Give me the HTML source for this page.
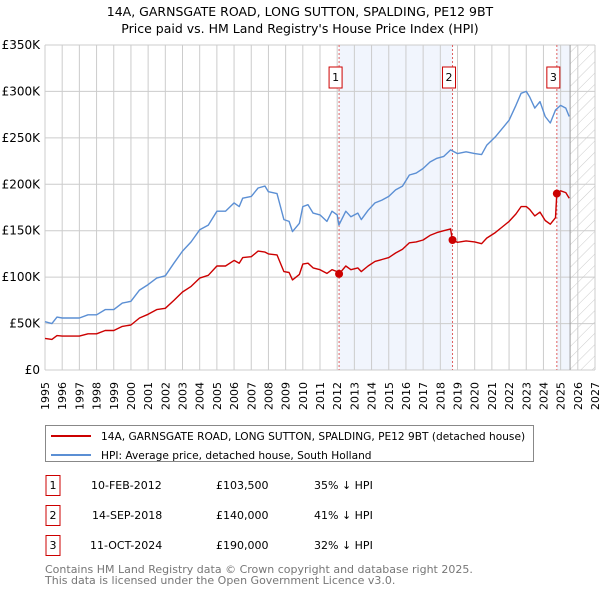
<!DOCTYPE html>
<html><head><meta charset="utf-8">
<style>
body{margin:0;background:#fff;font-family:"Liberation Sans","DejaVu Sans",sans-serif;}
svg text{font-family:"DejaVu Sans","Liberation Sans",sans-serif;}
</style></head>
<body>
<svg id="chart" width="600" height="590" viewBox="0 0 600 590" xmlns="http://www.w3.org/2000/svg">
<text x="300" y="16" text-anchor="middle" font-size="12.5">14A, GARNSGATE ROAD, LONG SUTTON, SPALDING, PE12 9BT</text>
<text x="300" y="33" text-anchor="middle" font-size="12.5">Price paid vs. HM Land Registry's House Price Index (HPI)</text>
<g id="plot"></g>
<g>
<rect x="45.5" y="425.5" width="488" height="36" fill="#fff" stroke="#888"/>
<line x1="51" y1="436" x2="91" y2="436" stroke="#cc0000" stroke-width="2"/>
<text x="101" y="440" font-size="10.6">14A, GARNSGATE ROAD, LONG SUTTON, SPALDING, PE12 9BT (detached house)</text>
<line x1="51" y1="455" x2="91" y2="455" stroke="#5b8fd4" stroke-width="2"/>
<text x="101" y="459" font-size="10.6">HPI: Average price, detached house, South Holland</text>
</g>
<g font-size="11">
<rect x="46" y="475.5" width="14" height="20" fill="#fff" stroke="#cc0000"/><text x="53" y="489" text-anchor="middle">1</text>
<text x="91" y="489">10-FEB-2012</text><text x="216" y="489">£103,500</text><text x="314" y="489">35% ↓ HPI</text>
<rect x="46" y="505.5" width="14" height="20" fill="#fff" stroke="#cc0000"/><text x="53" y="519" text-anchor="middle">2</text>
<text x="92" y="519">14-SEP-2018</text><text x="216" y="519">£140,000</text><text x="314" y="519">41% ↓ HPI</text>
<rect x="46" y="535.5" width="14" height="20" fill="#fff" stroke="#cc0000"/><text x="53" y="549" text-anchor="middle">3</text>
<text x="90" y="549">11-OCT-2024</text><text x="216" y="549">£190,000</text><text x="314" y="549">32% ↓ HPI</text>
</g>
<g font-size="11" fill="#777">
<text x="45" y="573">Contains HM Land Registry data © Crown copyright and database right 2025.</text>
<text x="45" y="584">This data is licensed under the Open Government Licence v3.0.</text>
</g>
</svg>
<script>
const hpiYears=[1995.0,1995.4,1995.7,1996,1997,1997.5,1998,1998.5,1999,1999.5,2000,2000.5,2001,2001.5,2002,2002.5,2003,2003.5,2004,2004.5,2005,2005.5,2006,2006.3,2006.5,2007,2007.4,2007.8,2008,2008.5,2008.9,2009.2,2009.4,2009.8,2010,2010.3,2010.6,2011,2011.4,2011.7,2012,2012.1,2012.5,2012.8,2013.2,2013.4,2013.8,2014.2,2014.6,2015,2015.4,2015.8,2016.2,2016.6,2017,2017.4,2017.8,2018.2,2018.6,2019,2019.5,2020,2020.4,2020.7,2021.2,2021.6,2022,2022.4,2022.7,2023,2023.2,2023.5,2023.8,2024.1,2024.4,2024.7,2025,2025.3,2025.5];
const hpiValues=[52,50,57,56,56,59.5,59.5,65,65,72,74,86,92,99,101.5,115,128,138,151,156,171,171,180,176,185,187,196,198,192,190,162,160,149,158,176,178,169,167,160,171,167,156,171,165,169,162,172,180,183,187,194,198,210,212,217,224,228,230,237,233,235,233,232,242,251,260,269,285,298,300,294,282,289,273,266,280,285,282,273];
const redYears=[1995.0,1995.4,1995.7,1996,1997,1997.5,1998,1998.5,1999,1999.5,2000,2000.5,2001,2001.5,2002,2002.5,2003,2003.5,2004,2004.5,2005,2005.5,2006,2006.3,2006.5,2007,2007.4,2007.8,2008,2008.5,2008.9,2009.2,2009.4,2009.8,2010,2010.3,2010.6,2011,2011.4,2011.7,2012,2012.11,2012.5,2012.8,2013.2,2013.4,2013.8,2014.2,2014.6,2015,2015.4,2015.8,2016.2,2016.6,2017,2017.4,2017.8,2018.2,2018.6,2018.7,2019,2019.5,2020,2020.4,2020.7,2021.2,2021.6,2022,2022.4,2022.7,2023,2023.2,2023.5,2023.8,2024.1,2024.4,2024.7,2024.78,2025,2025.3,2025.5];
const redValues=[34,33,37,36.5,36.5,39,39,42.5,42.5,47,48.5,56,60,65,66.5,75,84,90,99,102,112,112,118,115,121,122,128,127,125,124,106,105,97,103,114,115,110,108,104,108,106,103.5,112,108,110,106,112,117,119,121,126,130,137,138,140,145,148,150,152,140,137.5,139,138,136,142,148,154,160,168,176,176,173,166,170,161,157,164,190,193,191,185];
const saleYears=[2012.11,2018.71,2024.78];
const saleValues=[103.5,140,190];
const saleLabels=["1","2","3"];
const yTicks=[0,50,100,150,200,250,300,350];
const yTickLabels=["£0","£50K","£100K","£150K","£200K","£250K","£300K","£350K"];
const xTicks=[1995,1996,1997,1998,1999,2000,2001,2002,2003,2004,2005,2006,2007,2008,2009,2010,2011,2012,2013,2014,2015,2016,2017,2018,2019,2020,2021,2022,2023,2024,2025,2026,2027];
const dataEnd=2025.55;

const X0=45,X1=595,Y0=370,Y1=45;
const xs=y=>X0+(y-1995)/(2027-1995)*(X1-X0);
const ys=v=>Y0-v/350*(Y0-Y1);
const NS="http://www.w3.org/2000/svg";
const g=document.getElementById('plot');
function mk(t,a){const e=document.createElementNS(NS,t);for(const k in a)e.setAttribute(k,a[k]);g.appendChild(e);return e;}

let s=mk('rect',{x:xs(saleYears[0]),y:Y1,width:xs(saleYears[1])-xs(saleYears[0]),height:Y0-Y1,fill:'#eef3fc',opacity:0.8});


s=mk('rect',{x:xs(saleYears[2]),y:Y1,width:xs(dataEnd)-xs(saleYears[2]),height:Y0-Y1,fill:'#eef3fc',opacity:0.8});


const defs=mk('defs',{});
defs.innerHTML='<pattern id="hp" width="8" height="8" patternUnits="userSpaceOnUse" patternTransform="rotate(45)"><line x1="0" y1="0" x2="0" y2="8" stroke="#ccc" stroke-width="1"/></pattern>';
s=mk('rect',{x:xs(dataEnd),y:Y1,width:X1-xs(dataEnd),height:Y0-Y1,fill:'url(#hp)'});


xTicks.forEach(t=>{
  const l=mk('line',{x1:xs(t),x2:xs(t),y1:Y1,y2:Y0,stroke:'#ccc','stroke-width':1});
  
  
  const tx=mk('text',{x:0,y:0,'font-size':11,'text-anchor':'end',transform:`translate(${xs(t)+4},${Y0+12}) rotate(-90)`});
  tx.textContent=t;
  
  
});
yTicks.forEach((t,i)=>{
  const l=mk('line',{x1:X0,x2:X1,y1:ys(t),y2:ys(t),stroke:'#ccc','stroke-width':1});
  
  
  const tx=mk('text',{x:X0-5,y:ys(t)+4,'font-size':12,'text-anchor':'end'});
  tx.textContent=yTickLabels[i];
  
  
});
let nl=mk('line',{x1:xs(dataEnd),x2:xs(dataEnd),y1:Y1,y2:Y0,stroke:'#999','stroke-width':1});


saleYears.forEach((y,i)=>{
  const l=mk('line',{x1:xs(y),x2:xs(y),y1:Y1,y2:Y0,stroke:'#e06060','stroke-width':1,'stroke-dasharray':'2,2'});
  
  
  const r=mk('rect',{x:xs(y)-10,y:67,width:13,height:21,fill:'#fff',stroke:'#cc0000'});
  
  
  const t=mk('text',{x:xs(y)-3.5,y:81,'font-size':11,'text-anchor':'middle'});
  t.textContent=saleLabels[i];
  
  
});
function path(xa,va,col,name){
  const d=xa.map((x,i)=>(i?'L':'M')+xs(x).toFixed(1)+','+ys(va[i]).toFixed(1)).join('');
  const p=mk('path',{d:d,fill:'none',stroke:col,'stroke-width':1.4,'stroke-linejoin':'round'});
  
  
}
path(hpiYears,hpiValues,'#5b8fd4','hpi-line');
path(redYears,redValues,'#cc0000','price-paid-line');
saleYears.forEach((y,i)=>{
  const c=mk('circle',{cx:xs(y),cy:ys(saleValues[i]),r:4,fill:'#cc0000'});
  
  
});
</script>
</body></html>
